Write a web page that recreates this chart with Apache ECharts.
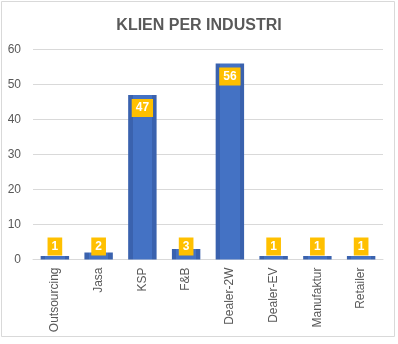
<!DOCTYPE html>
<html>
<head>
<meta charset="utf-8">
<script src="https://cdn.jsdelivr.net/npm/echarts@6/dist/echarts.min.js"></script>
<style>
  html, body { margin: 0; padding: 0; background: #fff; }
  #chart { width: 398px; height: 344px; }
</style>
</head>
<body>
<div id="chart"></div>
<script>
// Clients per industry
const categories = ['Outsourcing', 'Jasa', 'KSP', 'F&B', 'Dealer-2W', 'Dealer-EV', 'Manufaktur', 'Retailer'];
const clients = [1, 2, 47, 3, 56, 1, 1, 1];
const yTicks = [0, 10, 20, 30, 40, 50, 60];

const chart = echarts.init(document.getElementById('chart'), null, { renderer: 'canvas' });

// bar fill: darker edges, lighter middle
const barFill = new echarts.graphic.LinearGradient(0, 0, 1, 0, [
  { offset: 0, color: '#3A62AE' },
  { offset: 0.16, color: '#3A62AE' },
  { offset: 0.16, color: '#4472C4' },
  { offset: 0.84, color: '#4472C4' },
  { offset: 0.84, color: '#3A62AE' },
  { offset: 1, color: '#3A62AE' }
]);

const labelBox = {
  show: true,
  color: '#fff',
  fontWeight: 'bold',
  fontSize: 12,
  fontFamily: 'Liberation Sans, Arial, sans-serif',
  backgroundColor: '#FFC000',
  padding: [2, 4, 2, 4],
  lineHeight: 14,
  formatter: '{c}'
};

const seriesData = clients.map(v => ({
  value: v,
  label: v >= 10
    ? { position: 'insideTop', distance: 4 }
    : { position: 'insideBottom', distance: 4 }
}));

chart.setOption({
  backgroundColor: '#fff',
  animation: false,
  title: {
    text: 'KLIEN PER INDUSTRI',
    left: 'center',
    top: 13,
    textStyle: {
      color: '#595959',
      fontSize: 16,
      fontWeight: 'bold',
      fontFamily: 'Liberation Sans, Arial, sans-serif'
    }
  },
  graphic: [{
    type: 'rect',
    shape: { x: 1.5, y: 1.5, width: 393, height: 335 },
    style: { fill: 'none', stroke: '#D9D9D9', lineWidth: 1 },
    silent: true
  }],
  grid: { left: 33, right: 15, top: 49.5, bottom: 84.5, containLabel: false },
  xAxis: {
    type: 'category',
    data: categories,
    axisTick: { show: false },
    axisLine: { show: true, lineStyle: { color: '#D9D9D9', width: 1 } },
    axisLabel: {
      rotate: 90,
      margin: 8,
      color: '#595959',
      fontSize: 12,
      fontFamily: 'Liberation Sans, Arial, sans-serif',
      interval: 0
    }
  },
  yAxis: {
    type: 'value',
    min: yTicks[0],
    max: yTicks[yTicks.length - 1],
    interval: 10,
    axisLine: { show: false },
    axisTick: { show: false },
    splitLine: { lineStyle: { color: '#D9D9D9', width: 1 } },
    axisLabel: {
      margin: 12,
      color: '#595959',
      fontSize: 12,
      fontFamily: 'Liberation Sans, Arial, sans-serif'
    }
  },
  series: [{
    type: 'bar',
    data: seriesData,
    barCategoryGap: '35%',
    itemStyle: { color: barFill },
    label: labelBox
  }]
});
</script>
</body>
</html>
